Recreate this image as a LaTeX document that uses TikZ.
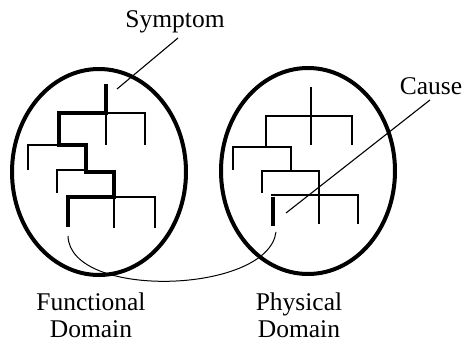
\documentclass[tikz,border=0pt]{standalone}
\usepackage{fontspec}
\setmainfont{Liberation Serif}
\usetikzlibrary{shapes.geometric}
\begin{document}
\begin{tikzpicture}[x=1pt,y=-1pt,
  domainbox/.style={draw,ellipse,line width=4pt,minimum width=174pt,minimum height=206pt,inner sep=0pt},
  thinline/.style={line width=1.1pt},
  thickpath/.style={line width=4pt,line join=miter},
  lbl/.style={font=\fontsize{25.5}{27.5}\selectfont,inner sep=0pt,align=center},
  leader/.style={line width=1.1pt}]
\useasboundingbox (0,0) rectangle (464,342);
% domains
\node[domainbox] (func) at (99,172) {};
\node[domainbox] (phys) at (308,171) {};
% functional tree (thin)
\draw[thinline] (106,113) -- (145,113) -- (145,145);
\draw[thinline] (106,113) -- (106,145);
\draw[thinline] (59,145) -- (28,145) -- (28,170);
\draw[thinline] (86,170) -- (57,170) -- (57,193);
\draw[thinline] (114,197) -- (155,197) -- (155,228);
\draw[thinline] (114,197) -- (114,228);
% functional tree (thick path from symptom)
\draw[thickpath] (106,84) -- (106,113) -- (59,113) -- (59,145) -- (86,145) -- (86,172) -- (114,172) -- (114,197) -- (68,197) -- (68,227);
\coordinate (sy) at (117,89);
\coordinate (fb) at (68,236);
% physical tree (thin)
\draw[thinline] (311,87) -- (311,145);
\draw[thinline] (266,147) -- (266,116) -- (352,116) -- (352,145);
\draw[thinline] (233,170) -- (233,147) -- (291,147) -- (291,170);
\draw[thinline] (262,193) -- (262,171) -- (319,171) -- (319,224);
\draw[thinline] (271,195) -- (358,195) -- (358,224);
\draw[thickpath] (273,197) -- (273,226);
\coordinate (ca) at (286,213);
\coordinate (pb) at (276,232);
% labels
\node[lbl,anchor=base] (symptom) at (175,28) {Symptom};
\node[lbl,anchor=base] (cause) at (431,95) {Cause};
\node[lbl,anchor=north] (flab) at (91,292.5) {Functional\\Domain};
\node[lbl,anchor=north] (plab) at (299,292.5) {Physical\\Domain};
% leaders
\draw[leader] (sy) -- (178,38);
\draw[leader] (ca) -- (430,100);
% mapping curve
\draw[line width=1pt] (fb) .. controls (70,300) and (268,294) .. (pb);
\end{tikzpicture}
\end{document}
